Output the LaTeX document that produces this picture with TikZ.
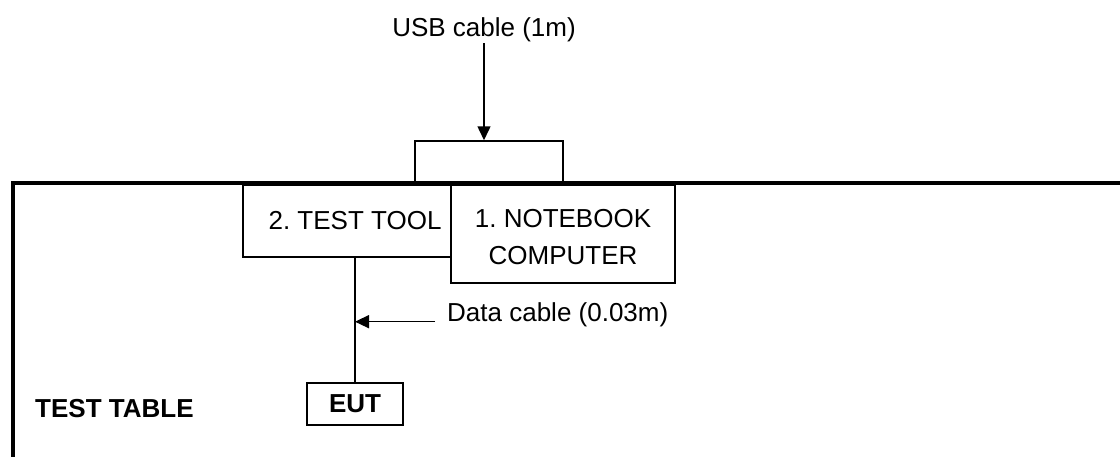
\documentclass[tikz,border=0pt]{standalone}
\usepackage{fontspec}
\setmainfont{Liberation Sans}
\usetikzlibrary{arrows.meta}
\begin{document}
\frenchspacing
\begin{tikzpicture}[x=1pt,y=-1pt,
  thin line/.style={line width=1.5pt},
  table line/.style={line width=4.5pt},
  boxstyle/.style={draw,line width=1.5pt,fill=white,inner sep=0pt,align=center},
  arrowline/.style={line width=1.5pt,-{Triangle[length=14pt,width=13pt]}},
  lbl/.style={inner sep=0pt,font=\fontsize{26}{36.7}\selectfont}
]
\useasboundingbox (0,0) rectangle (1120,456);
% USB box on top
\node[boxstyle,minimum width=148pt,minimum height=42pt] (ubox) at (489,162) {};
% table edges
\draw[table line] (1125,183) -- (13,183) -- (13,462);
% test tool box
\node[boxstyle,minimum width=208pt,minimum height=72pt,lbl] (tt) at (347,221) {\hspace*{16pt}2. TEST TOOL};
% notebook box
\node[boxstyle,minimum width=224pt,minimum height=98pt,lbl] (nb) at (563,234) {\rule{0pt}{23.6pt}1. NOTEBOOK\\COMPUTER};
% EUT
\node[boxstyle,minimum width=96pt,minimum height=42pt,lbl,font=\fontsize{26}{30}\selectfont\bfseries] (eut) at (355,404) {EUT};
% connection test tool -> EUT
\draw[thin line] (eut.north |- tt.south) -- (eut.north);
% USB cable label and arrow
\node[lbl,anchor=base] (usb) at (484,36.7) {USB cable (1m)};
\coordinate (utail) at (484,43);
\draw[arrowline] (utail) -- (utail |- ubox.north);
% data cable label and arrow
\node[lbl,anchor=base west] (dc) at (447,321.7) {Data cable (0.03m)};
\coordinate (dtail) at (435,321.7);
\draw[arrowline] (dtail) -- (dtail -| eut.north);
% test table label
\node[lbl,anchor=west,font=\fontsize{26}{30}\selectfont\bfseries] (tab) at (35,409) {TEST TABLE};
\end{tikzpicture}
\end{document}
